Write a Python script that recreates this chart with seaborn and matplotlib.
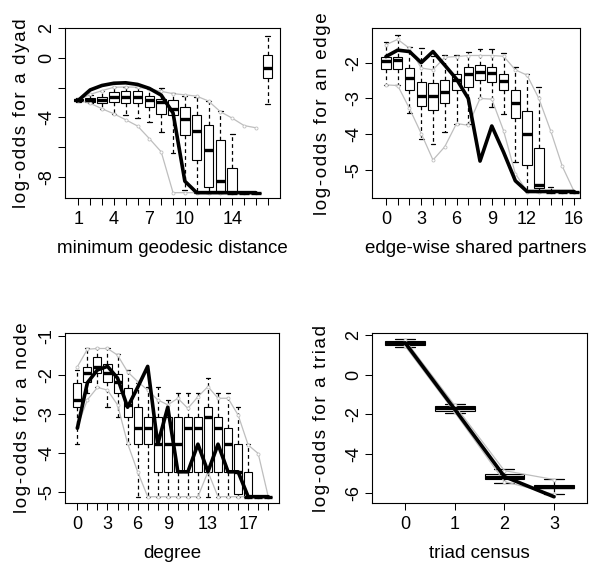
import numpy as np
import pandas as pd
import matplotlib
matplotlib.use("Agg")
import matplotlib.pyplot as plt
import seaborn as sns

# ---------------- Panel 1: minimum geodesic distance ----------------
geo_pos = list(range(1, 18))          # 1..16 and Inf at 17
geo_ticklabels = ['1', '', '', '4', '', '', '7', '', '', '10', '', '', '', '14', '', '', '']
geo_lo  = [-2.95, -3.05, -3.42, -3.75, -3.85, -4.05, -4.30, -5.00, -6.40, -8.90, -9.07, -9.07, -9.07, -9.07, -9.07, -9.07, -3.08]
geo_q1  = [-2.90, -2.95, -3.00, -2.97, -3.00, -3.05, -3.30, -3.75, -3.87, -5.16, -6.84, -8.70, -8.95, -9.07, -9.07, -9.07, -1.34]
geo_med = [-2.84, -2.80, -2.80, -2.64, -2.60, -2.60, -2.86, -2.95, -3.45, -4.09, -4.94, -6.17, -8.29, -9.07, -9.07, -9.07, -0.67]
geo_q3  = [-2.78, -2.68, -2.60, -2.30, -2.23, -2.20, -2.57, -2.75, -2.80, -3.31, -3.87, -4.54, -5.50, -7.44, -9.07, -9.07, 0.20]
geo_hi  = [-2.72, -2.50, -2.20, -1.97, -1.95, -1.97, -2.08, -2.00, -2.35, -2.55, -2.60, -2.90, -3.60, -5.10, -9.07, -9.07, 1.49]
geo_line_pos = list(range(1, 17))
geo_obs = [-2.85, -2.15, -1.85, -1.70, -1.67, -1.78, -2.05, -2.50, -3.70, -8.30, -9.07, -9.07, -9.07, -9.07, -9.07, -9.07]
geo_up  = [-2.85, -2.45, -2.20, -1.97, -1.95, -1.97, -2.08, -2.25, -2.40, -2.48, -2.57, -2.90, -3.62, -4.05, -4.55, -4.70]
geo_low = [-2.85, -3.05, -3.42, -3.76, -4.16, -4.58, -5.43, -6.32, -9.07, -9.07, -9.07, -9.07, -9.07, -9.07, -9.07, -9.07]
geo_yticks = [2, 0, -2, -4, -6, -8]
geo_yticklabels = ['2', '0', '', '-4', '', '-8']

# ---------------- Panel 2: edge-wise shared partners ----------------
esp_pos = list(range(0, 17))
esp_ticklabels = ['0', '', '', '3', '', '', '6', '', '', '9', '', '', '12', '', '', '', '16']
esp_lo  = [-2.62, -2.62, -3.42, -4.12, -4.26, -3.93, -3.70, -3.72, -3.00, -3.23, -3.44, -4.77, -5.58, -5.60, -5.60, -5.60, -5.60]
esp_q1  = [-2.18, -2.18, -2.76, -3.21, -3.32, -3.14, -2.75, -2.67, -2.48, -2.55, -2.76, -3.54, -4.86, -5.49, -5.60, -5.60, -5.60]
esp_med = [-1.95, -1.93, -2.44, -2.93, -2.93, -2.81, -2.48, -2.32, -2.25, -2.30, -2.51, -3.14, -4.00, -5.42, -5.60, -5.60, -5.60]
esp_q3  = [-1.83, -1.83, -2.16, -2.55, -2.58, -2.48, -2.33, -2.11, -2.07, -2.11, -2.32, -2.75, -3.35, -4.38, -5.60, -5.60, -5.60]
esp_hi  = [-1.43, -1.23, -1.55, -1.60, -1.80, -1.78, -1.78, -1.69, -1.63, -1.63, -1.74, -2.11, -2.33, -2.69, -5.47, -5.60, -5.60]
esp_obs = [-1.83, -1.65, -1.69, -2.00, -1.69, -2.07, -2.46, -3.00, -4.75, -3.77, -4.50, -5.30, -5.60, -5.60, -5.60, -5.60, -5.60]
esp_up  = [-1.50, -1.35, -1.60, -2.15, -2.20, -1.85, -1.83, -1.80, -1.80, -1.80, -1.82, -2.20, -2.35, -3.00, -3.90, -4.90, -5.60]
esp_low = [-2.62, -2.64, -3.28, -3.98, -4.72, -4.35, -3.70, -3.75, -3.00, -3.02, -3.90, -5.10, -5.60, -5.60, -5.60, -5.60, -5.60]
esp_yticks = [-2, -3, -4, -5]
esp_yticklabels = ['-2', '-3', '-4', '-5']

# ---------------- Panel 3: degree ----------------
deg_pos = list(range(0, 20))
deg_ticklabels = ['0', '', '', '3', '', '', '6', '', '', '9', '', '', '', '13', '', '', '', '17', '', '']
deg_lo  = [-3.78, -2.47, -2.32, -2.83, -3.07, -3.78, -5.13, -5.13, -5.13, -5.13, -5.13, -5.13, -5.13, -5.13, -5.13, -5.13, -5.13, -5.13, -5.13, -5.13]
deg_q1  = [-2.83, -2.17, -1.96, -2.17, -2.46, -3.07, -3.78, -3.78, -4.49, -4.49, -4.49, -4.49, -4.49, -4.49, -4.49, -4.49, -5.05, -5.13, -5.13, -5.13]
deg_med = [-2.64, -1.96, -1.80, -1.96, -2.17, -2.77, -3.37, -3.37, -3.78, -3.78, -3.78, -3.37, -3.37, -3.07, -3.37, -3.78, -4.49, -5.13, -5.13, -5.13]
deg_q3  = [-2.20, -1.80, -1.53, -1.72, -1.98, -2.34, -2.83, -3.07, -3.07, -3.07, -3.07, -3.07, -3.07, -2.83, -3.07, -3.37, -3.78, -4.49, -5.13, -5.13]
deg_hi  = [-1.87, -1.32, -1.32, -1.32, -1.45, -1.87, -2.20, -2.32, -2.32, -2.64, -2.47, -2.47, -2.47, -2.08, -2.47, -2.47, -2.83, -3.78, -5.13, -5.13]
deg_obs = [-3.37, -2.20, -1.87, -1.78, -2.08, -2.83, -2.32, -1.78, -3.78, -2.83, -4.49, -4.49, -3.78, -4.49, -3.78, -4.49, -4.49, -5.13, -5.13, -5.13]
deg_up  = [-1.79, -1.34, -1.32, -1.32, -1.49, -1.92, -2.17, -2.39, -2.64, -2.77, -2.60, -2.86, -2.56, -2.30, -2.60, -2.60, -3.03, -3.80, -4.02, -5.13]
deg_low = [-3.33, -2.64, -2.32, -2.39, -2.77, -3.76, -4.49, -5.13, -5.13, -5.13, -5.13, -5.13, -5.13, -4.49, -5.13, -5.13, -5.13, -5.13, -5.13, -5.13]
deg_yticks = [-1, -2, -3, -4, -5]
deg_yticklabels = ['-1', '-2', '-3', '-4', '-5']

# ---------------- Panel 4: triad census ----------------
tri_pos = [0, 1, 2, 3]
tri_ticklabels = ['0', '1', '2', '3']
tri_lo  = [1.41, -1.96, -5.49, -6.03]
tri_q1  = [1.51, -1.82, -5.29, -5.74]
tri_med = [1.61, -1.70, -5.15, -5.66]
tri_q3  = [1.71, -1.59, -5.02, -5.58]
tri_hi  = [1.80, -1.50, -4.78, -5.27]
tri_obs = [1.61, -1.75, -5.15, -6.17]
tri_up  = [1.75, -1.55, -4.85, -5.30]
tri_low = [1.45, -1.90, -5.40, -6.05]
tri_yticks = [2, 0, -2, -4, -6]
tri_yticklabels = ['2', '0', '-2', '-4', '-6']

sns.set_style("ticks")
plt.rcParams['font.family'] = ['Liberation Sans', 'DejaVu Sans']
plt.rcParams['text.color'] = 'black'
plt.rcParams['axes.labelcolor'] = 'black'
plt.rcParams['xtick.color'] = 'black'
plt.rcParams['ytick.color'] = 'black'

W, H = 598, 571
fig = plt.figure(figsize=(W / 100, H / 100), dpi=100)

GRAY = '#bebebe'
TICK_FS = 13
LAB_FS = 13.5


def spaced(s):
    return '\u200a'.join(list(s))


def panel(rect_px, pos, lo, q1, med, q3, hi, line_pos, obs, up, low,
          xlim, ylim, ticklabels, yticks, yticklabels, xlabel, ylabel,
          ylab_x):
    l, t, r, b = rect_px
    ax = fig.add_axes([l / W, 1 - b / H, (r - l) / W, (b - t) / H])
    rows = []
    for p, a, bq, m, c, d in zip(pos, lo, q1, med, q3, hi):
        for v in (a, bq, m, c, d):
            rows.append({'x': p, 'y': v})
    df = pd.DataFrame(rows)
    sns.boxplot(data=df, x='x', y='y', native_scale=True, whis=(0, 100),
                width=0.8, color='white', linecolor='black', linewidth=0.8,
                fliersize=0, ax=ax,
                medianprops=dict(linewidth=2.4, color='black'),
                whiskerprops=dict(linestyle=(0, (3, 2.5)), linewidth=0.9),
                capprops=dict(linewidth=0.9))
    for arr in (up, low):
        sns.lineplot(x=line_pos, y=arr, color=GRAY, linewidth=0.9, marker='o',
                     markersize=2.2, markerfacecolor='white', markeredgecolor=GRAY,
                     markeredgewidth=0.6, ax=ax, sort=False, estimator=None)
    sns.lineplot(x=line_pos, y=obs, color='black', linewidth=2.6, ax=ax,
                 sort=False, estimator=None)
    ax.set_xlim(*xlim)
    ax.set_ylim(*ylim)
    ax.set_xticks(pos)
    ax.set_xticklabels(ticklabels, fontsize=TICK_FS)
    ax.set_yticks(yticks)
    ax.set_yticklabels(yticklabels, fontsize=TICK_FS, rotation=90, va='center')
    ax.tick_params(axis='both', direction='out', length=4.8, width=0.75,
                   color='black', labelcolor='black')
    ax.tick_params(axis='x', pad=4)
    ax.tick_params(axis='y', pad=2.5)
    for s in ax.spines.values():
        s.set_visible(True)
        s.set_linewidth(0.8)
        s.set_color('black')
    ax.set_xlabel(xlabel, fontsize=LAB_FS, color='black')
    ax.set_ylabel(spaced(ylabel), fontsize=LAB_FS, color='black')
    ax.xaxis.label.set_va('center')
    ax.yaxis.label.set_va('center')
    ax.xaxis.set_label_coords(0.5, -(50.0 / (b - t)))
    ax.yaxis.set_label_coords(ylab_x, 0.5)
    return ax


panel((65, 28.3, 280, 198.3), geo_pos, geo_lo, geo_q1, geo_med, geo_q3, geo_hi,
      geo_line_pos, geo_obs, geo_up, geo_low, (-0.13, 18.04), (-9.45, 2.0),
      geo_ticklabels, geo_yticks, geo_yticklabels,
      'minimum geodesic distance', 'log-odds for a dyad', -0.20)

panel((372.3, 28.3, 580, 198.3), esp_pos, esp_lo, esp_q1, esp_med, esp_q3, esp_hi,
      esp_pos, esp_obs, esp_up, esp_low, (-1.16, 16.5), (-5.79, -1.04),
      esp_ticklabels, esp_yticks, esp_yticklabels,
      'edge-wise shared partners', 'log-odds for an edge', -0.242)

panel((65, 332.7, 279, 503.3), deg_pos, deg_lo, deg_q1, deg_med, deg_q3, deg_hi,
      deg_pos, deg_obs, deg_up, deg_low, (-1.23, 20.07), (-5.3, -0.914),
      deg_ticklabels, deg_yticks, deg_yticklabels,
      'degree', 'log-odds for a node', -0.20)

panel((372.3, 332.7, 587.3, 503.3), tri_pos, tri_lo, tri_q1, tri_med, tri_q3, tri_hi,
      tri_pos, tri_obs, tri_up, tri_low, (-0.66, 3.67), (-6.5, 2.12),
      tri_ticklabels, tri_yticks, tri_yticklabels,
      'triad census', 'log-odds for a triad', -0.234)

fig.savefig('out.png', dpi=100)
